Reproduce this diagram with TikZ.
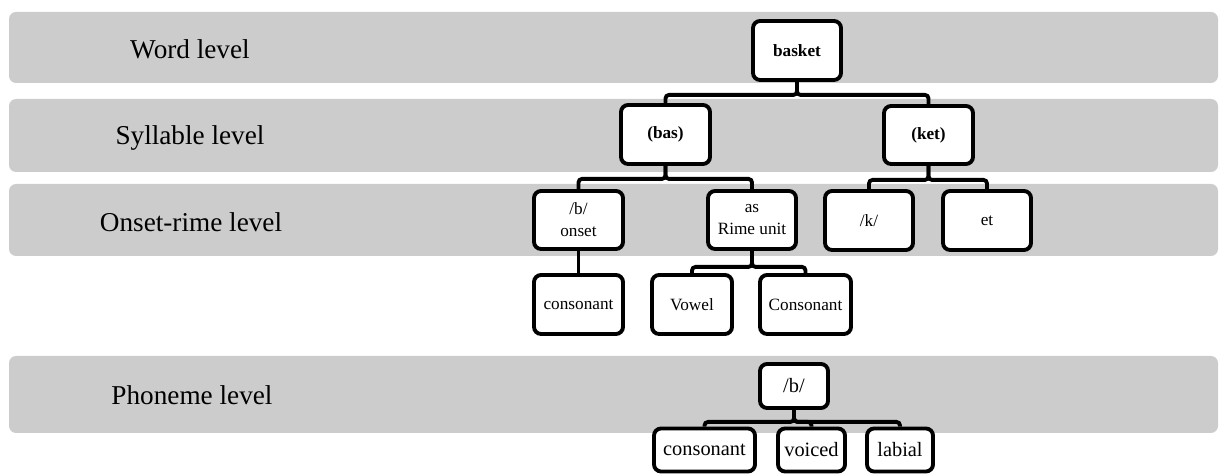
\documentclass[tikz,border=0pt]{standalone}
\usepackage{fontspec}
\setmainfont{Liberation Serif}
\usetikzlibrary{calc}

\tikzset{
    band/.style={fill=gray!40, rounded corners=4pt},
    levellabel/.style={font=\fontsize{15.5}{18}\selectfont},
    unitbox/.style={draw, line width=2.2pt, rounded corners=4pt, fill=white,
        align=center, inner sep=0pt, font=\fontsize{9.8}{12.5}\selectfont},
    phonbox/.style={unitbox, font=\fontsize{11.6}{14}\selectfont},
    branch/.style={line width=2.2pt, rounded corners=2pt}
}

\begin{document}
\begin{tikzpicture}[x=0.02cm, y=-0.02cm]
            \useasboundingbox (0, 0) rectangle (1228, 475);
            % level bands
            \fill[band] (9, 12) rectangle (1218, 83);
            \fill[band] (9, 99) rectangle (1218, 172);
            \fill[band] (9, 184) rectangle (1218, 256);
            \fill[band] (9, 356) rectangle (1218, 433);
            \node[levellabel] (word) at (190, 49) {Word level};
            \node[levellabel] (syll) at (190, 138) {Syllable level};
            \node[levellabel] (onrime) at (191, 222) {Onset-rime level};
            \node[levellabel] (phon) at (192, 395) {Phoneme level};
            % word tree
            \node[unitbox, minimum width=1.76cm, minimum height=1.18cm] (basket) at (797, 50.5) {\textbf{basket}};
            \node[unitbox, minimum width=1.78cm, minimum height=1.18cm] (bas) at (665.5, 134.5) {\textbf{(bas)}};
            \node[unitbox, minimum width=1.78cm, minimum height=1.16cm] (ket) at (928.5, 135) {\textbf{(ket)}};
            \node[unitbox, minimum width=1.78cm, minimum height=1.16cm] (onset) at (578.5, 220) {/b/\\onset};
            \node[unitbox, minimum width=1.76cm, minimum height=1.16cm] (rime) at (752, 220) {as\\Rime unit};
            \node[unitbox, minimum width=1.76cm, minimum height=1.18cm] (k) at (869, 220.5) {/k/};
            \node[unitbox, minimum width=1.76cm, minimum height=1.18cm] (et) at (987, 220.5) {et};
            \node[unitbox, minimum width=1.78cm, minimum height=1.18cm] (cons) at (578.5, 304.5) {consonant};
            \node[unitbox, minimum width=1.60cm, minimum height=1.18cm] (vowel) at (692, 304.5) {Vowel};
            \node[unitbox, minimum width=1.82cm, minimum height=1.18cm] (Cons) at (805.5, 304.5) {Consonant};
            \draw[branch] (basket.south) -- ++(0, 13) -| (bas.north);
            \draw[branch] (basket.south) -- ++(0, 13) -| (ket.north);
            \draw[branch] (bas.south) -- ++(0, 13) -| (onset.north);
            \draw[branch] (bas.south) -- ++(0, 13) -| (rime.north);
            \draw[branch] (ket.south) -- ++(0, 14) -| (k.north);
            \draw[branch] (ket.south) -- ++(0, 14) -| (et.north);
            \draw[branch] (onset.south) -- (cons.north);
            \draw[branch] (rime.south) -- ++(0, 16) -| (vowel.north);
            \draw[branch] (rime.south) -- ++(0, 16) -| (Cons.north);
            % phoneme tree
            \node[phonbox, minimum width=1.36cm, minimum height=0.88cm] (pb) at (794, 386) {/b/};
            \node[phonbox, minimum width=2.02cm, minimum height=0.86cm] (pcons) at (704.5, 450) {consonant};
            \node[phonbox, minimum width=1.34cm, minimum height=0.86cm] (voiced) at (811.5, 450) {voiced};
            \node[phonbox, minimum width=1.32cm, minimum height=0.86cm] (labial) at (900, 450) {labial};
            \draw[branch] (pb.south) -- ++(0, 12) -| (pcons.north);
            \draw[branch] (pb.south) -- ++(0, 12) -| (voiced.north);
            \draw[branch] (pb.south) -- ++(0, 12) -| (labial.north);
\end{tikzpicture}
\end{document}
